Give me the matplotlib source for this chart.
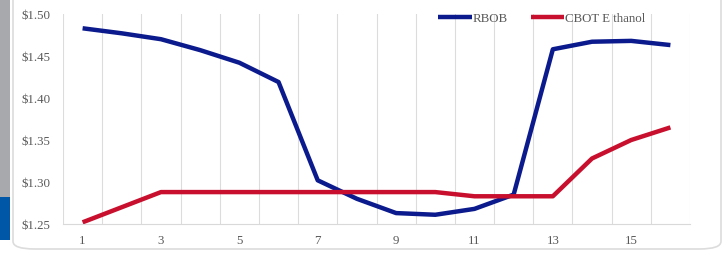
import matplotlib.pyplot as plt
from matplotlib.patches import Rectangle, FancyBboxPatch

# weekly prices, $/gal
weeks = list(range(1, 17))
rbob = [1.483, 1.477, 1.470, 1.457, 1.442, 1.419, 1.302, 1.280,
        1.263, 1.261, 1.268, 1.285, 1.458, 1.467, 1.468, 1.463]
ethanol = [1.252, 1.270, 1.288, 1.288, 1.288, 1.288, 1.288, 1.288,
           1.288, 1.288, 1.283, 1.283, 1.283, 1.328, 1.350, 1.365]
y_ticks = [1.25, 1.30, 1.35, 1.40, 1.45, 1.50]
x_ticks = [1, 3, 5, 7, 9, 11, 13, 15]

W, H = 727, 254
fig = plt.figure(figsize=(W / 100, H / 100), dpi=100)
fig.patch.set_facecolor('white')
plt.rcParams['font.family'] = ['Liberation Serif', 'DejaVu Serif']

# side decoration + rounded panel
fig.patches.append(Rectangle((0, 1 - 197 / H), 10 / W, 197 / H, transform=fig.transFigure,
                             facecolor='#a7a9ac', edgecolor='none'))
fig.patches.append(Rectangle((0, 1 - 240 / H), 10 / W, 43 / H, transform=fig.transFigure,
                             facecolor='#0057a8', edgecolor='none'))
fig.patches.append(FancyBboxPatch((13 / W, 5 / H), 708 / W, 270 / H, transform=fig.transFigure,
                                  boxstyle='round,pad=0,rounding_size=0.03',
                                  facecolor='none', edgecolor='#dcdcdc', lw=1.2))

ax = fig.add_axes([63 / W, (H - 224) / H, 627 / W, 210 / H])
ax.plot(weeks, rbob, color='#0b1a8c', lw=3.2, label='RBOB', solid_capstyle='butt')
ax.plot(weeks, ethanol, color='#c8102e', lw=3.2, label='CBOT E thanol', solid_capstyle='butt')

ax.set_xlim(0.5, 16.5)
ax.set_ylim(1.25, 1.50)
ax.set_xticks(x_ticks)
ax.set_yticks(y_ticks)
ax.set_yticklabels([f'${v:.2f}' for v in y_ticks])
for x in [i + 0.5 for i in range(0, 17)]:
    ax.axvline(x, color='#dcdcdc', lw=0.8, zorder=0)

for s in ['top', 'right', 'left']:
    ax.spines[s].set_visible(False)
ax.spines['bottom'].set_color('#d9d9d9')
ax.tick_params(axis='both', length=0, colors='#595959', labelsize=9.3)
ax.tick_params(axis='y', pad=9)
ax.tick_params(axis='x', pad=8)

leg = ax.legend(loc='center left', bbox_to_anchor=(0.598, 0.977), ncol=2, frameon=False,
                borderpad=0, borderaxespad=0, handlelength=2.6, handletextpad=0.05,
                columnspacing=1.8, fontsize=9.3)
for t in leg.get_texts():
    t.set_color('#595959')

fig.savefig('out.png', dpi=100)
